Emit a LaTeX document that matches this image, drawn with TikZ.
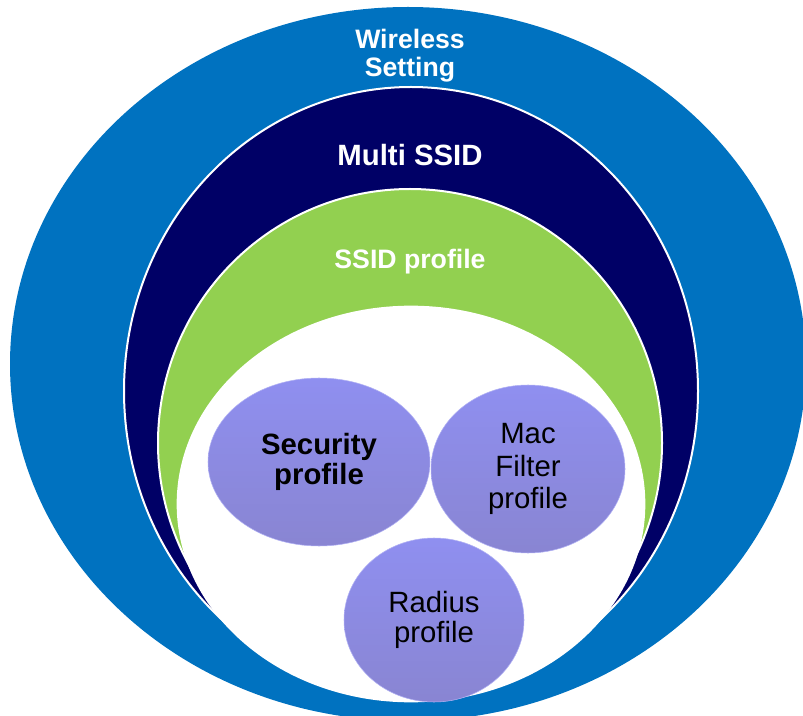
\documentclass[tikz,border=0pt]{standalone}
\usepackage{fontspec}
\setmainfont{Liberation Sans}
\usetikzlibrary{shapes.geometric}
\definecolor{wblue}{RGB}{0,114,192}
\definecolor{navy}{RGB}{0,0,102}
\definecolor{lgreen}{RGB}{146,208,80}
\definecolor{ptop}{RGB}{143,143,240}
\definecolor{pbot}{RGB}{137,133,210}
\tikzset{
  ring/.style={draw=white, line width=1.5pt},
  ringlabel/.style={text=white, align=center, inner sep=0pt},
  bubble/.style={ellipse, inner sep=0pt, top color=ptop, bottom color=pbot,
    draw=ptop!70!white, line width=0.4pt, align=center, text=black,
    font=\fontsize{22}{22.5}\selectfont},
}
\begin{document}
\begin{tikzpicture}[x=0.75pt,y=0.75pt]
\useasboundingbox (0,0) rectangle (803,715);
\clip (0,0) rectangle (803,715);
% outer blue: centre (408,364) in image pixels
\fill[wblue] (408,351) ellipse [x radius=398, y radius=357];
% navy: centre (411,391)
\filldraw[fill=navy, ring] (411,324) ellipse [x radius=287, y radius=304];
% green: centre (410,443)
\filldraw[fill=lgreen, ring] (410,272) ellipse [x radius=252, y radius=254];
% white core: centre (411,504)
\filldraw[fill=white, draw=white, line width=2pt] (411,211) ellipse [x radius=233, y radius=197];
\node[ringlabel, font=\bfseries\fontsize{20}{21}\selectfont] (wireless) at (410,659) {Wireless\\Setting};
\node[ringlabel, font=\bfseries\fontsize{22}{23}\selectfont] (multi) at (410,559.5) {Multi SSID};
\node[ringlabel, font=\bfseries\fontsize{20}{21}\selectfont] (ssidp) at (410,453) {SSID profile};
\node[bubble, minimum width=166.5pt, minimum height=126pt, font=\bfseries\fontsize{22}{22.5}\selectfont] (security) at (319,253) {Security\\profile};
\node[bubble, minimum width=145.5pt, minimum height=126pt, font=\fontsize{22}{24.4}\selectfont] (mac) at (528,246) {Mac\\Filter\\profile};
\node[bubble, minimum width=135pt, minimum height=123pt] (radius) at (434,95) {Radius\\profile};
\end{tikzpicture}
\end{document}
